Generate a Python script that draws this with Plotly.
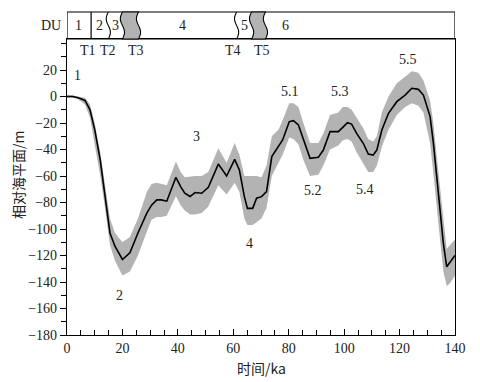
import numpy as np
import plotly.graph_objects as go

# ---- data ----
time_ka = [0, 2, 4, 6.5, 8.3, 10, 12, 13.7, 15.5, 17.3, 20, 22.7, 25.6, 28.8, 30.5, 32.4, 34, 36,
           39.3, 41, 42.5, 44.4, 46.2, 48.6, 51, 54.6, 57.6, 60.5, 62.2, 64, 65.1, 67, 68.4, 70.2,
           72, 73.9, 76.3, 77.8, 80.2, 81.7, 83.5, 85.3, 87.7, 90.7, 92.5, 94.9, 97.9, 99.5, 101.2,
           102.7, 104.5, 106.9, 108.7, 110.5, 111.8, 113.6, 116, 119, 122, 124.4, 126.8, 128.6,
           131, 132.2, 133.4, 134.6, 135.8, 137, 138.2, 140]
sea_level = [0, 0, -1, -3, -10, -25, -48, -73, -103, -113, -123, -118, -103, -88, -82, -78, -78, -79,
             -61, -68, -73, -75.5, -72.5, -73, -68.5, -51, -60, -47.4, -55.5, -75.6, -84.4, -84.4, -76.8, -75.6,
             -71.8, -45.4, -37.9, -32.8, -19, -18.2, -21.5, -32.8, -46.7, -45.9, -40.4, -26.5, -26.5, -23.3,
             -19.8, -20.8, -27.8, -35.3, -43.4, -44.2, -40.4, -25.3, -12.7, -3.9, 1.1, 6.2, 5.4, 1.1,
             -15, -35, -60.5, -85.7, -110.8, -128.5, -125.4, -120]
band_upper = [1, 1, 0, -1, -6, -20, -42, -66, -92, -103, -110, -106, -92, -72, -66, -65, -66, -67,
              -49, -57, -61, -60.5, -60, -60, -57, -39, -50, -35, -44, -60, -60, -60, -60, -61,
              -52, -30, -25, -18, -5, -5, -8, -20, -35, -35, -28, -14, -12, -8,
              -8, -10, -16, -24, -32, -34, -30, -12, 0, 10, 15, 19, 18, 12,
              -3, -20, -45, -70, -95, -115, -112, -108]
band_lower = [-1, -1, -2, -6, -16, -35, -60, -84, -112, -124, -135, -132, -120, -102, -93, -91, -91, -90,
              -75, -82, -86, -89, -89, -88, -83, -67, -74, -65, -72, -92, -97, -97, -95, -92,
              -84, -60, -50, -44, -31, -32, -36, -48, -60, -59, -52, -40, -37, -33,
              -32, -34, -42, -50, -57, -57, -52, -38, -25, -14, -8, -5, -7, -12,
              -35, -58, -85, -108, -132, -143, -141, -135]

x_ticks = [0, 20, 40, 60, 80, 100, 120, 140]
y_ticks = [20, 0, -20, -40, -60, -80, -100, -120, -140, -160, -180]

stage_labels = ["1", "2", "3", "4", "5.1", "5.2", "5.3", "5.4", "5.5"]
stage_x = [3.8, 19.1, 46.6, 65.8, 80.5, 88.8, 98.5, 107.5, 123.0]
stage_y = [16, -150, -30, -111, 4, -71, 4, -70, 28]

du_labels = ["1", "2", "3", "4", "5", "6"]
du_label_x = [4.0, 11.6, 17.6, 41.8, 63.9, 78.7]
t_labels = ["T1", "T2", "T3", "T4", "T5"]
t_label_x = [7.6, 14.8, 25.0, 60.0, 70.2]
du_straight = [8.7]
du_waves = [14.9, 61.2]
du_gray = [(20.0, 25.8), (66.6, 71.6)]

# ---- layout geometry (page body adds an 8px offset) ----
OFF = 8
W, H = 480 - OFF, 382 - OFF
L, R, T, B = 67 - OFF, 25, 12 - OFF, 47
plot_w = W - L - R
plot_h = H - T - B
AX_B = 335  # screen y of bottom axis
AX_L = 67   # screen x of left axis


def py(screen_y):
    return (AX_B - screen_y) / plot_h


def px(screen_x):
    return (screen_x - AX_L) / plot_w


main_top = py(39)

FONT = "Liberation Serif, Times New Roman, serif"
CJK = "Noto Sans CJK SC, Liberation Serif, serif"
TXT = "#222"
FS = 14

fig = go.Figure()
fig.add_trace(go.Scatter(x=time_ka, y=band_lower, mode="lines", line=dict(width=0, color="#b3b3b3"),
                         showlegend=False, hoverinfo="skip"))
fig.add_trace(go.Scatter(x=time_ka, y=band_upper, mode="lines", line=dict(width=0, color="#b3b3b3"),
                         fill="tonexty", fillcolor="#b3b3b3", showlegend=False, hoverinfo="skip"))
fig.add_trace(go.Scatter(x=time_ka, y=sea_level, mode="lines", line=dict(width=1.6, color="black"),
                         showlegend=False))

y_top = 20 + (70 - 39) / 1.325

fig.update_layout(
    width=W, height=H,
    margin=dict(l=L, r=R, t=T, b=B, autoexpand=False),
    paper_bgcolor="white", plot_bgcolor="white",
    font=dict(family=FONT, size=FS, color=TXT),
    xaxis=dict(range=[0, 140], tickvals=x_ticks, ticks="inside", ticklen=6, tickwidth=1.2,
               tickcolor="black", showline=True, linecolor="black", linewidth=1.2, mirror=True,
               showgrid=False, zeroline=False,
               minor=dict(dtick=5, ticks="inside", ticklen=5, tickcolor="black", tickwidth=1.2),
               tickfont=dict(family=FONT, size=FS, color=TXT)),
    yaxis=dict(domain=[0, main_top], range=[-180, y_top], tickvals=y_ticks, ticks="outside",
               ticklen=6, tickwidth=1.2, tickcolor="black", showline=True, linecolor="black",
               linewidth=1.2, mirror=True, showgrid=False, zeroline=False,
               minor=dict(dtick=10, ticks="outside", ticklen=5, tickcolor="black", tickwidth=1.2),
               tickfont=dict(family=FONT, size=FS, color=TXT)),
)

shapes = []
shapes.append(dict(type="rect", xref="x", yref="paper", x0=0, x1=140, y0=main_top, y1=1,
                   line=dict(color="black", width=1.2)))
for xs in du_straight:
    shapes.append(dict(type="line", xref="x", yref="paper", x0=xs, x1=xs, y0=main_top, y1=1,
                       line=dict(color="black", width=1.2)))

amp = 0.75
tt = np.linspace(0, 1, 25)


def wave_pts(c, reverse=False):
    xs = c - amp * np.sin(2 * np.pi * tt)
    ys = 1 - (1 - main_top) * tt
    pts = list(zip(xs, ys))
    return pts[::-1] if reverse else pts


for c in du_waves:
    pts = wave_pts(c)
    path = "M " + " L ".join(f"{x:.3f},{y:.4f}" for x, y in pts)
    shapes.append(dict(type="path", xref="x", yref="paper", path=path,
                       line=dict(color="black", width=1.1)))
for a, b in du_gray:
    pts = wave_pts(a) + wave_pts(b, reverse=True)
    path = "M " + " L ".join(f"{x:.3f},{y:.4f}" for x, y in pts) + " Z"
    shapes.append(dict(type="path", xref="x", yref="paper", path=path,
                       fillcolor="#b3b3b3", line=dict(color="black", width=1.1)))
fig.update_layout(shapes=shapes)

ann = []


def add_text(text, x, y, xref, yref, family=FONT, angle=0):
    ann.append(dict(x=x, y=y, xref=xref, yref=yref, text=text, showarrow=False,
                    xanchor="center", yanchor="middle", textangle=angle,
                    font=dict(family=family, size=FS, color=TXT)))


du_y = py(25.5)
for lab, xv in zip(du_labels, du_label_x):
    add_text(lab, xv, du_y, "x", "paper")
add_text("DU", px(51), du_y, "paper", "paper")
t_y = py(50)
for lab, xv in zip(t_labels, t_label_x):
    add_text(lab, xv, t_y, "x", "paper")
for lab, xv, yv in zip(stage_labels, stage_x, stage_y):
    add_text(lab, xv, yv, "x", "y")
add_text("时间/ka", px(261), py(368), "paper", "paper", family=CJK)
add_text("相对海平面/m", px(18), py(175), "paper", "paper", family=CJK, angle=-90)
fig.update_layout(annotations=ann)

fig.write_html("out.html")
